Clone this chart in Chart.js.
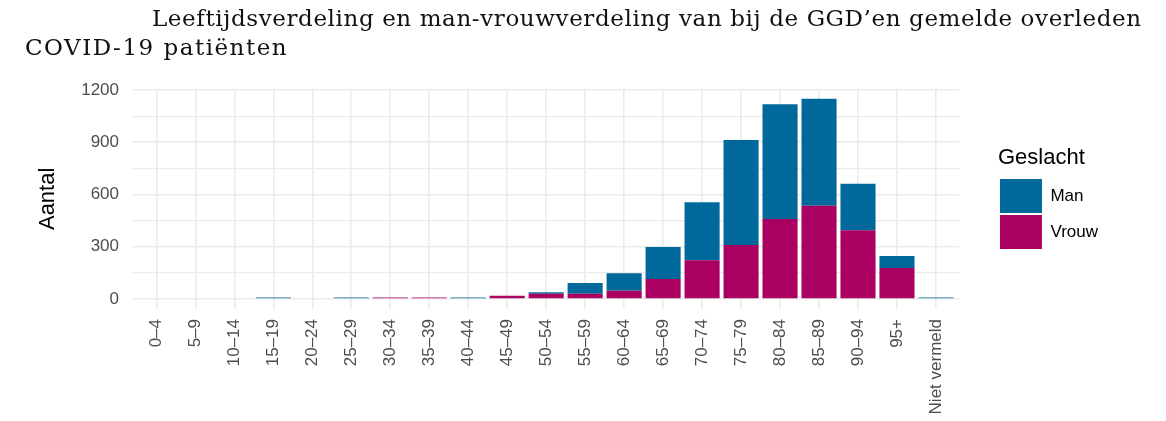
<!DOCTYPE html>
<html>
<head>
<meta charset="utf-8">
<script src="https://cdn.jsdelivr.net/npm/chart.js@4.4.1/dist/chart.umd.min.js"></script>
<style>
    html, body { margin: 0; padding: 0; background: #fff; }
    #wrap { position: relative; width: 1166px; height: 421px; overflow: hidden; }
    #chart { position: absolute; left: 0; top: 0; }
    #title {
        position: absolute; left: 25px; top: 4px;
        font-family: 'DejaVu Serif', serif; font-size: 23px; line-height: 29px;
        color: #111; white-space: nowrap;
    }
    #title .first { padding-left: 127px; letter-spacing: 0.6px; }
    #title .second { letter-spacing: 1.5px; }
</style>
</head>
<body>
<div id="wrap">
    <canvas id="chart" width="1166" height="421"></canvas>
    <div id="title">
        <div class="first">Leeftijdsverdeling en man-vrouwverdeling van bij de GGD’en gemelde overleden</div>
        <div class="second">COVID-19 patiënten</div>
    </div>
</div>
<script>
const ageGroups = ['0–4', '5–9', '10–14', '15–19', '20–24', '25–29', '30–34', '35–39', '40–44', '45–49',
    '50–54', '55–59', '60–64', '65–69', '70–74', '75–79', '80–84', '85–89', '90–94', '95+', 'Niet vermeld'];
const manCounts   = [0, 0, 0, 9, 0, 9, 0, 0, 9, 0, 8, 62, 100, 184, 333, 603, 659, 614, 268, 69, 9];
const vrouwCounts = [0, 0, 0, 0, 0, 0, 9, 9, 0, 19, 30, 30, 48, 115, 222, 310, 459, 536, 394, 178, 0];
const yTickLabels = [0, 300, 600, 900, 1200];

const blue = '#01689B';
const violet = '#A90061';
const gridColor = '#EBEBEB';
const tickColor = '#4D4D4D';

const ctx = document.getElementById('chart').getContext('2d');
new Chart(ctx, {
    type: 'bar',
    data: {
        // linear x axis so the panel can get ggplot's 0.6 category expansion
        labels: ageGroups.map((_, i) => i),
        datasets: [
            { label: 'Vrouw', data: vrouwCounts, backgroundColor: violet, borderWidth: 0 },
            { label: 'Man', data: manCounts, backgroundColor: blue, borderWidth: 0 }
        ]
    },
    options: {
        responsive: false,
        animation: false,
        events: [],
        datasets: { bar: { barPercentage: 0.9, categoryPercentage: 1.0 } },
        layout: { padding: { top: 88.7, right: 58, bottom: 0, left: 0 } },
        plugins: {
            title: { display: false },
            tooltip: { enabled: false },
            legend: {
                position: 'right',
                fullSize: false,
                reverse: true,
                title: {
                    display: true,
                    text: 'Geslacht',
                    position: 'start',
                    color: '#000',
                    font: { family: 'Liberation Sans', size: 22 },
                    padding: { top: 0, bottom: 4 }
                },
                labels: {
                    boxWidth: 42,
                    boxHeight: 34,
                    padding: 2,
                    color: '#000',
                    font: { family: 'Liberation Sans', size: 17 }
                }
            }
        },
        scales: {
            x: {
                type: 'linear',
                stacked: true,
                offset: false,
                min: -0.6,
                max: ageGroups.length - 1 + 0.6,
                grid: { offset: false, color: gridColor, lineWidth: 1.6, drawTicks: false },
                border: { display: false },
                ticks: {
                    stepSize: 1,
                    includeBounds: false,
                    autoSkip: false,
                    maxRotation: 90,
                    minRotation: 90,
                    padding: 10,
                    color: tickColor,
                    font: { family: 'Liberation Sans', size: 17 },
                    callback: v => ageGroups[v]
                },
                afterFit: s => { s.height = 112; }
            },
            y: {
                stacked: true,
                min: -57.5,
                max: 1207.5,
                grid: {
                    color: gridColor,
                    lineWidth: c => (yTickLabels.includes(c.tick.value) ? 1.6 : 1.2),
                    drawTicks: false
                },
                border: { display: false },
                ticks: {
                    stepSize: 150,
                    includeBounds: false,
                    padding: 14,
                    color: tickColor,
                    font: { family: 'Liberation Sans', size: 17 },
                    callback: v => (yTickLabels.includes(v) ? v : '')
                },
                title: {
                    display: true,
                    text: 'Aantal',
                    color: '#000',
                    font: { family: 'Liberation Sans', size: 22 },
                    padding: { top: 35, bottom: 0 }
                },
                afterFit: s => { s.width = 133; }
            },
            // empty axis that keeps the gap between panel and legend
            gap: {
                type: 'linear',
                position: 'right',
                grid: { display: false },
                border: { display: false },
                ticks: { display: false },
                afterFit: s => { s.width = 38.6; }
            }
        }
    }
});
</script>
</body>
</html>
